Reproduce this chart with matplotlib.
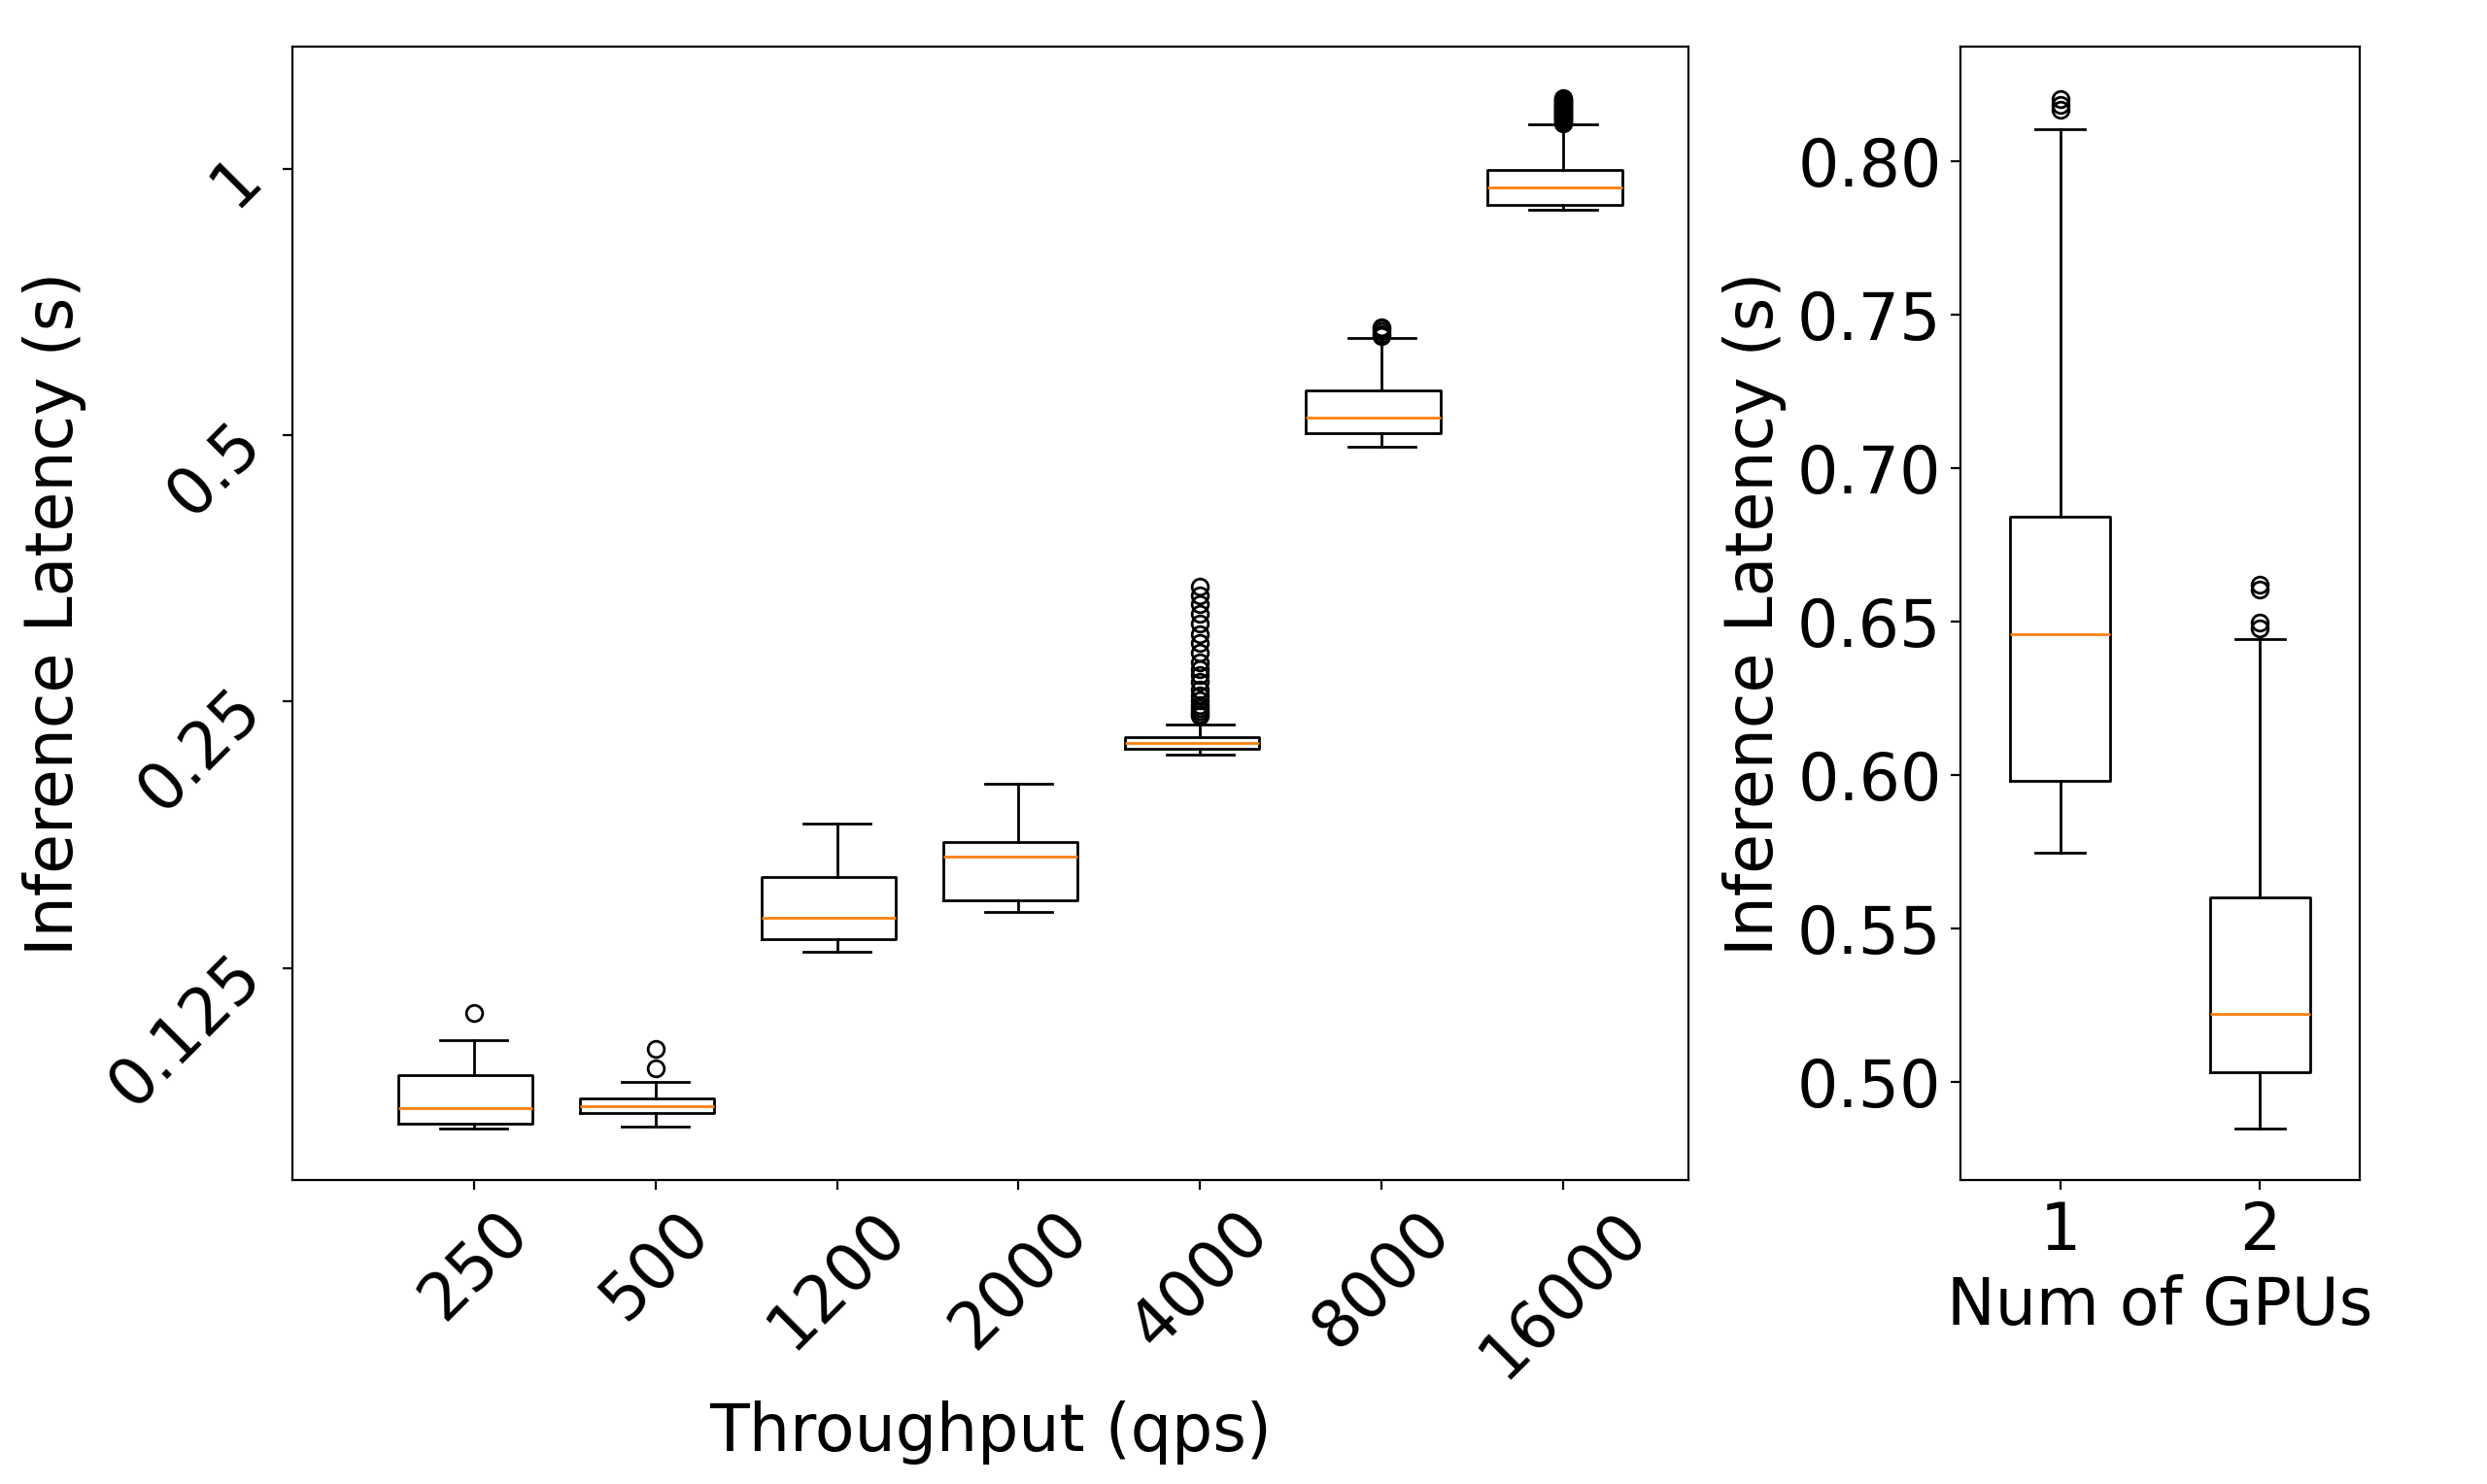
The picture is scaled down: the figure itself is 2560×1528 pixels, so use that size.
import matplotlib
matplotlib.use("Agg")
import matplotlib.pyplot as plt
from matplotlib.ticker import NullFormatter, NullLocator

# left panel: latency vs throughput (log2 y axis)
qps_labels = ['250', '500', '1200', '2000', '4000', '8000', '16000']
lat_lo = [0.0823, 0.0827, 0.1303, 0.1446, 0.2177, 0.4848, 0.899]
lat_q1 = [0.0834, 0.0857, 0.1349, 0.1491, 0.2209, 0.5026, 0.9115]
lat_med = [0.0869, 0.0873, 0.1425, 0.1672, 0.2245, 0.5230, 0.954]
lat_q3 = [0.0946, 0.0890, 0.1585, 0.1733, 0.2281, 0.5619, 0.998]
lat_hi = [0.1035, 0.0929, 0.1819, 0.2020, 0.2354, 0.6440, 1.122]
lat_fliers = [
    [0.1112],
    [0.0962, 0.1013],
    [],
    [],
    [0.241, 0.242, 0.244, 0.246, 0.248, 0.251, 0.254, 0.258, 0.263, 0.268,
     0.272, 0.277, 0.284, 0.291, 0.298, 0.306, 0.314, 0.322, 0.330, 0.337],
    [0.647, 0.651, 0.656, 0.660, 0.663],
    [1.127, 1.130, 1.133, 1.136, 1.139, 1.142, 1.145, 1.148, 1.151, 1.154,
     1.157, 1.160, 1.163, 1.166, 1.169, 1.172, 1.175, 1.178, 1.181, 1.184,
     1.187, 1.190, 1.193, 1.196, 1.199, 1.202],
]

# right panel: latency vs number of GPUs
gpu_labels = ['1', '2']
gpu_lo = [0.5748, 0.4847]
gpu_q1 = [0.5981, 0.5032]
gpu_med = [0.6459, 0.5222]
gpu_q3 = [0.6844, 0.5603]
gpu_hi = [0.8105, 0.6445]
gpu_fliers = [
    [0.8170, 0.8185, 0.8205],
    [0.6479, 0.6497, 0.6606, 0.6621],
]


def make_stats(lo, q1, med, q3, hi, fliers):
    stats = []
    for i in range(len(med)):
        stats.append({'whislo': lo[i], 'q1': q1[i], 'med': med[i],
                      'q3': q3[i], 'whishi': hi[i], 'fliers': fliers[i]})
    return stats


plt.rcParams['font.size'] = 24
fig = plt.figure(figsize=(12.8, 7.64), dpi=200)

ax1 = fig.add_axes([0.1176, 0.2048, 0.5613, 0.7638])
pos1 = list(range(1, len(qps_labels) + 1))
bp = ax1.bxp(make_stats(lat_lo, lat_q1, lat_med, lat_q3, lat_hi, lat_fliers),
             positions=pos1, widths=0.74)
# boxes sit slightly left of the whiskers in the original
for line in bp['boxes'] + bp['medians']:
    line.set_xdata([x - 0.046 for x in line.get_xdata()])
ax1.set_yscale('log', base=2)
ax1.set_ylim(0.0720, 1.3746)
ax1.set_xlim(0.0, 7.69)
ax1.set_yticks([0.125, 0.25, 0.5, 1])
ax1.set_yticklabels(['0.125', '0.25', '0.5', '1'], rotation=45)
ax1.yaxis.set_minor_locator(NullLocator())
ax1.yaxis.set_minor_formatter(NullFormatter())
ax1.set_xticks(pos1)
ax1.set_xticklabels(qps_labels, rotation=45)
ax1.set_xlabel("Throughput (qps)")
ax1.set_ylabel("Inference Latency (s)")

ax2 = fig.add_axes([0.7883, 0.2048, 0.1605, 0.7638])
pos2 = [1, 2]
ax2.bxp(make_stats(gpu_lo, gpu_q1, gpu_med, gpu_q3, gpu_hi, gpu_fliers),
        positions=pos2, widths=0.5)
ax2.set_xlim(0.5, 2.5)
ax2.set_ylim(0.468, 0.8375)
ax2.set_yticks([0.50, 0.55, 0.60, 0.65, 0.70, 0.75, 0.80])
ax2.set_yticklabels(['0.50', '0.55', '0.60', '0.65', '0.70', '0.75', '0.80'])
ax2.set_xticks(pos2)
ax2.set_xticklabels(gpu_labels)
ax2.set_xlabel("Num of GPUs")
ax2.set_ylabel("Inference Latency (s)")

fig.savefig("out.png", dpi=200)
